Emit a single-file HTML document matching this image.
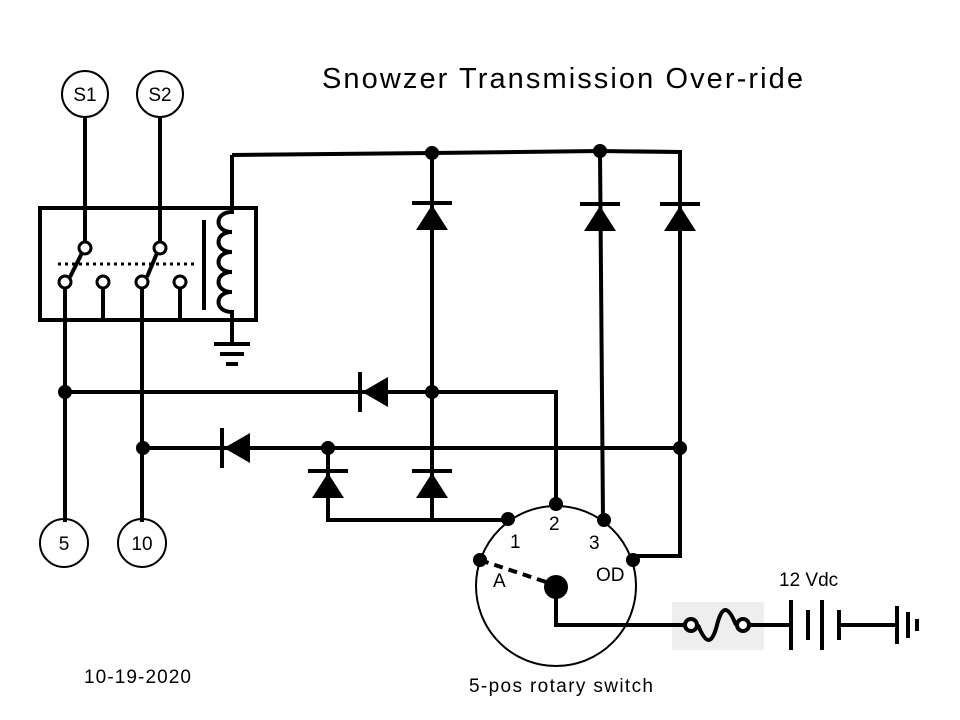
<!DOCTYPE html>
<html><head><meta charset="utf-8"><style>html,body{margin:0;padding:0;background:#fff}svg{display:block}</style></head>
<body>
<svg width="960" height="720" viewBox="0 0 960 720" xmlns="http://www.w3.org/2000/svg" font-family="Liberation Sans, DejaVu Sans, sans-serif">
<rect width="960" height="720" fill="#fff"/>
<text x="322" y="88" font-size="29" fill="#000" textLength="481" lengthAdjust="spacing">Snowzer Transmission Over-ride</text>
<g fill="none" stroke="#000" stroke-width="2">
<circle cx="85" cy="94" r="23"/><circle cx="160" cy="94" r="23"/>
<circle cx="64" cy="543" r="24"/><circle cx="142" cy="543" r="24"/>
<circle cx="556" cy="586" r="80"/>
</g>
<g font-size="19" text-anchor="middle" fill="#000">
<text x="85" y="101">S1</text><text x="160" y="101">S2</text>
<text x="64" y="550">5</text><text x="142" y="550">10</text>
</g>
<g stroke="#000" stroke-width="4" fill="none">
<line x1="85" y1="117" x2="85" y2="242"/><line x1="160" y1="117" x2="160" y2="242"/>
<rect x="40" y="208" width="216" height="112"/>
<line x1="204" y1="220" x2="204" y2="310"/>
<path d="M232 155 V212 c-18,0 -18,20 0,20 c-18,0 -18,20 0,20 c-18,0 -18,20 0,20 c-18,0 -18,20 0,20 c-18,0 -18,20 0,20 V344"/>
<line x1="214" y1="344" x2="250" y2="344"/><line x1="220" y1="354" x2="244" y2="354"/><line x1="226" y1="364" x2="238" y2="364"/>
<line x1="70" y1="277" x2="82" y2="253"/><line x1="147" y1="277" x2="157" y2="253"/>
<line x1="65" y1="288" x2="65" y2="522"/><line x1="142" y1="288" x2="142" y2="522"/>
<line x1="103" y1="288" x2="103" y2="318"/><line x1="180" y1="288" x2="180" y2="318"/>
<polyline points="232,155 432,153 600,151 680,152 680,556 633,556"/>
<line x1="432" y1="153" x2="432" y2="520"/>
<line x1="600" y1="151" x2="603" y2="520"/>
<polyline points="65,392 556,392 556,504"/>
<line x1="143" y1="448" x2="680" y2="448"/>
<polyline points="328,448 328,520 508,520"/>
<polyline points="556,587 556,625 790,625"/>
<line x1="838" y1="625" x2="897" y2="625"/>
<line x1="412" y1="203" x2="452" y2="203"/><line x1="580" y1="204" x2="620" y2="204"/><line x1="660" y1="204" x2="700" y2="204"/>
<line x1="308" y1="471" x2="348" y2="471"/><line x1="412" y1="471" x2="452" y2="471"/>
<line x1="360" y1="372" x2="360" y2="412"/><line x1="222" y1="428" x2="222" y2="468"/>
<line x1="480" y1="560" x2="546" y2="582" stroke-dasharray="9,6"/>
<line x1="791" y1="600" x2="791" y2="650"/><line x1="808" y1="610" x2="808" y2="640"/>
<line x1="822" y1="600" x2="822" y2="650"/><line x1="839" y1="610" x2="839" y2="640"/>
<line x1="897" y1="606" x2="897" y2="644"/><line x1="908" y1="612" x2="908" y2="638"/><line x1="917" y1="619" x2="917" y2="631"/>
</g>
<line x1="58" y1="264" x2="196" y2="264" stroke="#000" stroke-width="3" stroke-dasharray="3,4"/>
<g fill="#fff" stroke="#000" stroke-width="3">
<circle cx="85" cy="248" r="6"/><circle cx="160" cy="248" r="6"/>
<circle cx="65" cy="282" r="6"/><circle cx="103" cy="282" r="6"/><circle cx="142" cy="282" r="6"/><circle cx="180" cy="282" r="6"/>
</g>
<g fill="#000">
<polygon points="432,205 416,230 448,230"/><polygon points="600,206 584,231 616,231"/><polygon points="680,206 664,231 696,231"/>
<polygon points="328,473 312,498 344,498"/><polygon points="432,473 416,498 448,498"/>
<polygon points="362,392 388,377 388,407"/><polygon points="224,448 250,433 250,463"/>
<circle cx="432" cy="153" r="7"/><circle cx="600" cy="151" r="7"/>
<circle cx="65" cy="392" r="7"/><circle cx="432" cy="392" r="7"/>
<circle cx="143" cy="448" r="7"/><circle cx="328" cy="448" r="7"/><circle cx="680" cy="448" r="7"/>
<circle cx="508" cy="519" r="7"/><circle cx="556" cy="504" r="7"/><circle cx="604" cy="520" r="7"/>
<circle cx="633" cy="560" r="7"/><circle cx="480" cy="560" r="7"/>
<circle cx="556" cy="587" r="12"/>
</g>
<rect x="672" y="602" width="92" height="48" fill="#eee"/>
<line x1="672" y1="625" x2="684" y2="625" stroke="#000" stroke-width="4"/>
<line x1="750" y1="625" x2="764" y2="625" stroke="#000" stroke-width="4"/>
<path d="M698 625 C706 645 712 645 717 625 C722 605 728 605 736 625" fill="none" stroke="#000" stroke-width="4"/>
<g fill="#fff" stroke="#000" stroke-width="4"><circle cx="691" cy="625" r="6"/><circle cx="743" cy="625" r="6"/></g>
<line x1="764" y1="625" x2="790" y2="625" stroke="#000" stroke-width="4"/>
<g font-size="19" fill="#000">
<text x="510" y="548">1</text><text x="549" y="530">2</text><text x="589" y="549">3</text>
<text x="596" y="581">OD</text><text x="493" y="587">A</text>
<text x="779" y="586">12 Vdc</text>
<text x="84" y="683" textLength="107" lengthAdjust="spacing">10-19-2020</text>
<text x="469" y="692" textLength="184" lengthAdjust="spacing">5-pos rotary switch</text>
</g>
</svg>
</body></html>
